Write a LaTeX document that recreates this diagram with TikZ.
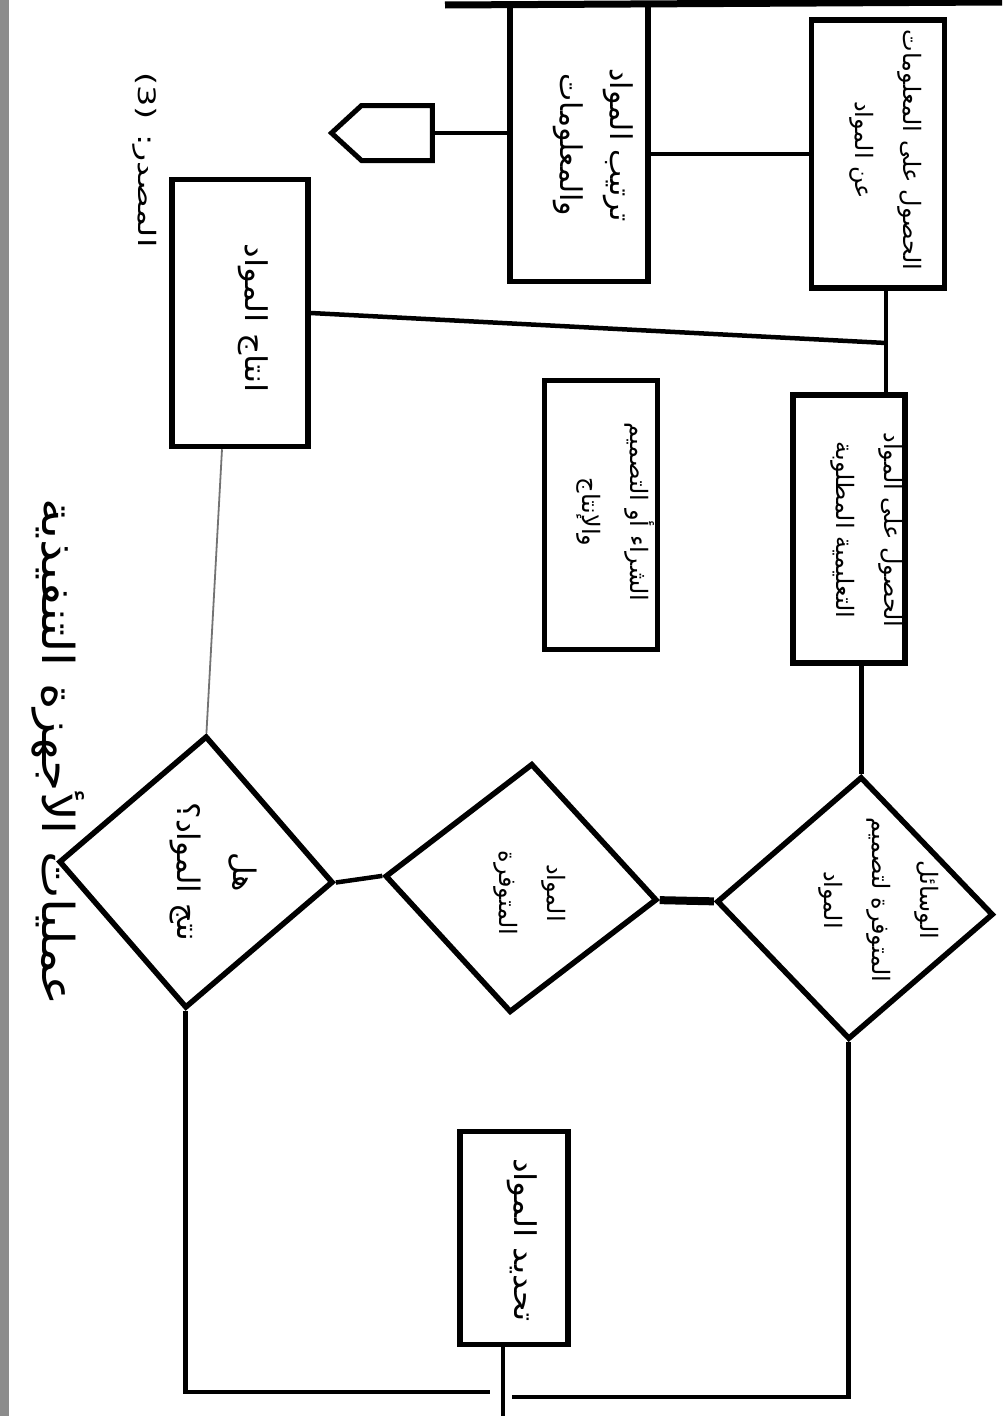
\documentclass[tikz,border=0pt]{standalone}
\usepackage{fontspec}
\newfontfamily\arabicfont[Script=Arabic]{DejaVu Sans}
\TeXXeTstate=1
\usetikzlibrary{shapes.geometric,shapes.symbols}
\newcommand{\artx}[1]{\beginR#1\endR}
\tikzset{
  box/.style={draw, line width=5.5pt, rectangle, inner sep=0pt},
  dia/.style={draw, line width=5.5pt, diamond, inner sep=0pt},
  txt/.style={font=\arabicfont\fontsize{24}{48}\selectfont, align=center, rotate=-90, inner sep=0pt},
  link/.style={line width=4.5pt},
  faint/.style={line width=1.8pt, draw=black!55},
}
\begin{document}
\begin{tikzpicture}[x=1pt,y=-1pt]
\useasboundingbox (0,0) rectangle (1002,1416);
% scan edges
\fill[black!45] (0,0) rectangle (9,1416);
\draw[line width=7pt] (445,5) -- (1002,2);
% boxes
\node[box, minimum width=133, minimum height=268] (A) at (878,154) {};
\node[box, minimum width=138, minimum height=277] (B) at (579,143) {};
\node[signal, signal to=west, draw, line width=5pt, minimum width=101, minimum height=55, signal pointer angle=85, inner sep=0pt] (P) at (397,133) {};
\node[box, minimum width=136, minimum height=267] (E) at (240,313) {};
\node[box, minimum width=112, minimum height=268] (C) at (849,529) {};
\node[box, minimum width=113, minimum height=269] (G) at (601,515) {};
\node[box, minimum width=108, minimum height=213] (F) at (514,1238) {};
% diamonds
\node[dia, minimum width=277, minimum height=263, rotate=-2.7] (D1) at (855,908) {};
\node[dia, minimum width=273, minimum height=250, rotate=-5] (D2) at (521,888) {};
\node[dia, minimum width=275, minimum height=273, rotate=-4.3] (D3) at (196,872) {};
% texts
\node[txt] (tA) at (886,150) {\artx{الحصول على المعلومات}\\\artx{عن المواد}};
\node[txt, font=\arabicfont\fontsize{30}{50}\selectfont] (tB) at (593,145) {\artx{ترتيب المواد}\\\artx{والمعلومات}};
\node[txt, font=\arabicfont\fontsize{30}{40}\selectfont] (tE) at (253,318) {\scalebox{1.1}[1]{\artx{انتاج المواد}}};
\node[txt] (tC) at (867,530) {\artx{الحصول على المواد}\\\artx{التعليمية المطلوبة}};
\node[txt] (tG) at (616,512) {\artx{الشراء أو التصميم}\\\artx{والإنتاج}};
\node[txt, font=\arabicfont\fontsize{30}{40}\selectfont] (tF) at (522,1240) {\scalebox{1.1}[1]{\artx{تحديد المواد}}};
\node[txt] (tD1) at (879,900) {\artx{الوسائل}\\\artx{المتوفرة لتصميم}\\\artx{المواد}};
\node[txt] (tD2) at (530,893) {\artx{المواد}\\\artx{المتوفرة}};
\node[txt, font=\arabicfont\fontsize{31}{56}\selectfont] (tD3) at (213,872) {\artx{هل}\\\artx{نتج المواد؟}};
\node[txt, font=\arabicfont\fontsize{44}{50}\selectfont] (title) at (58,752) {\scalebox{1.15}[1]{\artx{عمليات الأجهزة التنفيذية}}};
\node[txt, font=\arabicfont\fontsize{24}{30}\selectfont] (src) at (145,160) {\scalebox{1.4}[1]{\artx{المصدر: \beginL(3)\endL}}};
% coordinates
\coordinate (ac) at (886,0);
\coordinate (J) at (886,343);
\coordinate (gl) at (490,1392);
\coordinate (gr) at (512,1397);
\coordinate (Fout) at (503,1416);
% connectors
\draw[link] (A.west) -- (A.west -| B.east);
\draw[link] (P.east -| B.west) -- (P.east);
\draw[link] (A.south -| ac) -- (C.north -| ac);
\draw[link] (E.east) -- (J);
\draw[link] (C.south -| D1.north) -- (D1.north);
\draw[line width=8pt] (D1.west) -- (D2.east);
\draw[link] (D2.west) -- (D3.east);
\draw[faint] (D3.north) -- ([xshift=-18pt]E.south);
\draw[link] (D3.south) |- (gl);
\draw[link] (D1.south) |- (gr);
\draw[link] (F.south -| Fout) -- (Fout);
\end{tikzpicture}
\end{document}
